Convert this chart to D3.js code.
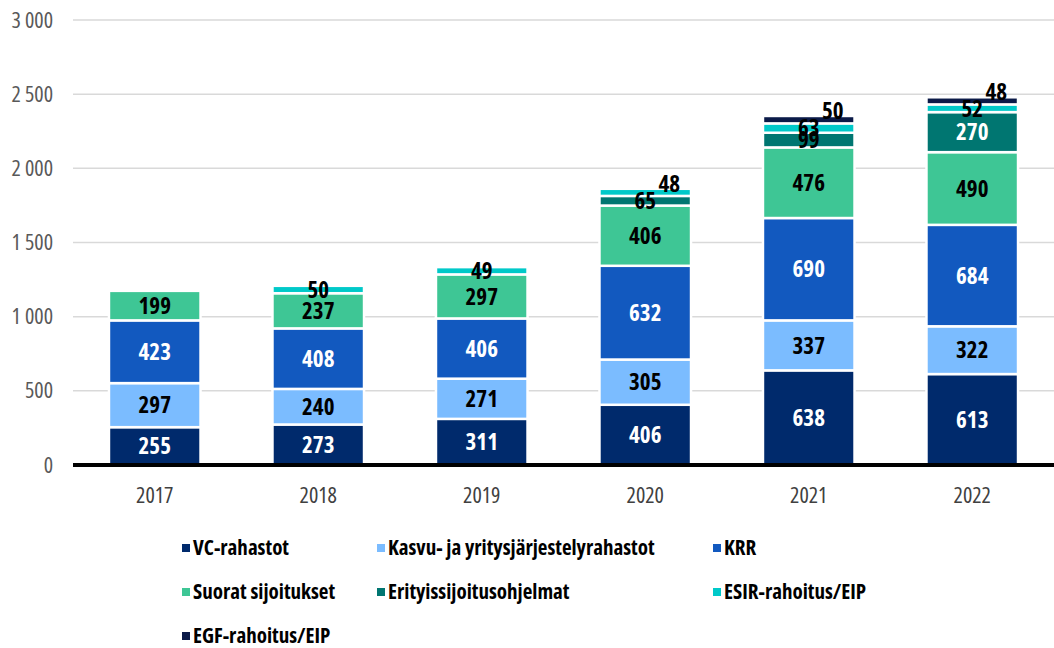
<!DOCTYPE html>
<html>
<head>
<meta charset="utf-8">
<script src="https://d3js.org/d3.v7.min.js"></script>
<style>
  body { margin: 0; background: #fff; }
  svg { font-family: "Open Sans", sans-serif; font-stretch: condensed; }
  .grid line { stroke: #d9d9d9; stroke-width: 1.5; }
  .ylab text { fill: #595959; font-size: 22px; font-family: "Open Sans"; }
  .xlab text { fill: #404040; font-size: 22px; font-family: "Open Sans"; }
</style>
</head>
<body>
<script>
// data
const years = ['2017', '2018', '2019', '2020', '2021', '2022'];
const seriesNames = ['VC-rahastot', 'Kasvu- ja yritysjärjestelyrahastot', 'KRR', 'Suorat sijoitukset',
  'Erityissijoitusohjelmat', 'ESIR-rahoitus/EIP', 'EGF-rahoitus/EIP'];
const vcRahastot   = [255, 273, 311, 406, 638, 613];
const kasvu        = [297, 240, 271, 305, 337, 322];
const krr          = [423, 408, 406, 632, 690, 684];
const suorat       = [199, 237, 297, 406, 476, 490];
const erityis      = [0, 0, 0, 65, 99, 270];
const esir         = [0, 50, 49, 48, 63, 52];
const egf          = [0, 0, 0, 0, 50, 48];
const yTicks = [0, 500, 1000, 1500, 2000, 2500, 3000];

const colors = ['#002a6c', '#7bbcff', '#1259bf', '#3ec695', '#007671', '#00c9c9', '#0b1a48'];
const darkSeries = [true, false, true, false, true, false, true];
const allSeries = [vcRahastot, kasvu, krr, suorat, erityis, esir, egf];

const table = years.map((y, i) => {
  const row = { year: y };
  seriesNames.forEach((s, j) => row[s] = allSeries[j][i]);
  return row;
});

const width = 1054, height = 648;
const margin = { top: 20, right: 0, bottom: 183, left: 73 };

const svg = d3.select('body').append('svg')
  .attr('width', width).attr('height', height);

const x = d3.scaleBand()
  .domain(years)
  .range([margin.left, width - margin.right])
  .paddingInner(0.44)
  .paddingOuter(0.22);

const y = d3.scaleLinear()
  .domain([0, 3000])
  .range([height - margin.bottom, margin.top]);

// gridlines
svg.append('g').attr('class', 'grid')
  .selectAll('line').data(yTicks.slice(1)).join('line')
  .attr('x1', margin.left).attr('x2', width - margin.right)
  .attr('y1', d => y(d)).attr('y2', d => y(d));

// y labels
const yAxis = svg.append('g').attr('class', 'ylab')
  .attr('transform', `translate(${margin.left},0)`)
  .call(d3.axisLeft(y).tickValues(yTicks).tickSize(0).tickPadding(20)
    .tickFormat(d => d3.format(',')(d).replace(',', ' ')));
yAxis.select('.domain').remove();

const stacked = d3.stack().keys(seriesNames)(table);

const layer = svg.append('g').selectAll('g')
  .data(stacked).join('g')
  .attr('fill', (d, i) => colors[i]);

layer.selectAll('rect')
  .data(d => d.filter(p => p[1] - p[0] > 0))
  .join('rect')
  .attr('x', d => x(d.data.year))
  .attr('width', x.bandwidth())
  .attr('y', d => y(d[1]))
  .attr('height', d => y(d[0]) - y(d[1]))
  .attr('stroke', '#fff')
  .attr('stroke-width', 2.5);

// x axis line
svg.append('line')
  .attr('x1', margin.left).attr('x2', width - margin.right)
  .attr('y1', y(0)).attr('y2', y(0))
  .attr('stroke', '#000').attr('stroke-width', 4);

// x labels
const xAxis = svg.append('g').attr('class', 'xlab')
  .attr('transform', `translate(0,${y(0)})`)
  .call(d3.axisBottom(x).tickSize(0).tickPadding(22));
xAxis.select('.domain').remove();

// value labels
const segVal = (si, yi) => stacked[si][yi][1] - stacked[si][yi][0];
stacked.forEach((s, si) => {
  s.forEach((p, yi) => {
    const v = p[1] - p[0];
    if (v <= 0) return;
    let cx = x(p.data.year) + x.bandwidth() / 2;
    let cy = (y(p[0]) + y(p[1])) / 2;
    // topmost small segment sitting on another small one: push label out
    const isTop = !stacked.slice(si + 1).some((t, k) => segVal(si + 1 + k, yi) > 0);
    let below = 999;
    for (let k = si - 1; k >= 0; k--) { if (segVal(k, yi) > 0) { below = segVal(k, yi); break; } }
    if (isTop && v < 100 && below < 100) { cx += 24; cy -= 9; }
    const white = darkSeries[si] && v >= 150;
    svg.append('text')
      .attr('x', cx).attr('y', cy)
      .attr('dy', '0.36em')
      .attr('text-anchor', 'middle')
      .attr('font-size', 23)
      .attr('font-weight', 'bold')
      .attr('fill', white ? '#fff' : '#000')
      .text(v);
  });
});

// legend
const colX = [182, 377, 713];
const legend = svg.append('g').selectAll('g')
  .data(seriesNames).join('g')
  .attr('transform', (d, i) => `translate(${colX[i % 3]},${548 + Math.floor(i / 3) * 44})`);
legend.append('rect')
  .attr('x', 0).attr('y', -4).attr('width', 8).attr('height', 8)
  .attr('fill', (d, i) => colors[i]);
legend.append('text')
  .attr('x', 11).attr('dy', '0.35em')
  .attr('font-size', 21).attr('font-weight', 'bold')
  .attr('fill', '#000')
  .text(d => d);
</script>
</body>
</html>
